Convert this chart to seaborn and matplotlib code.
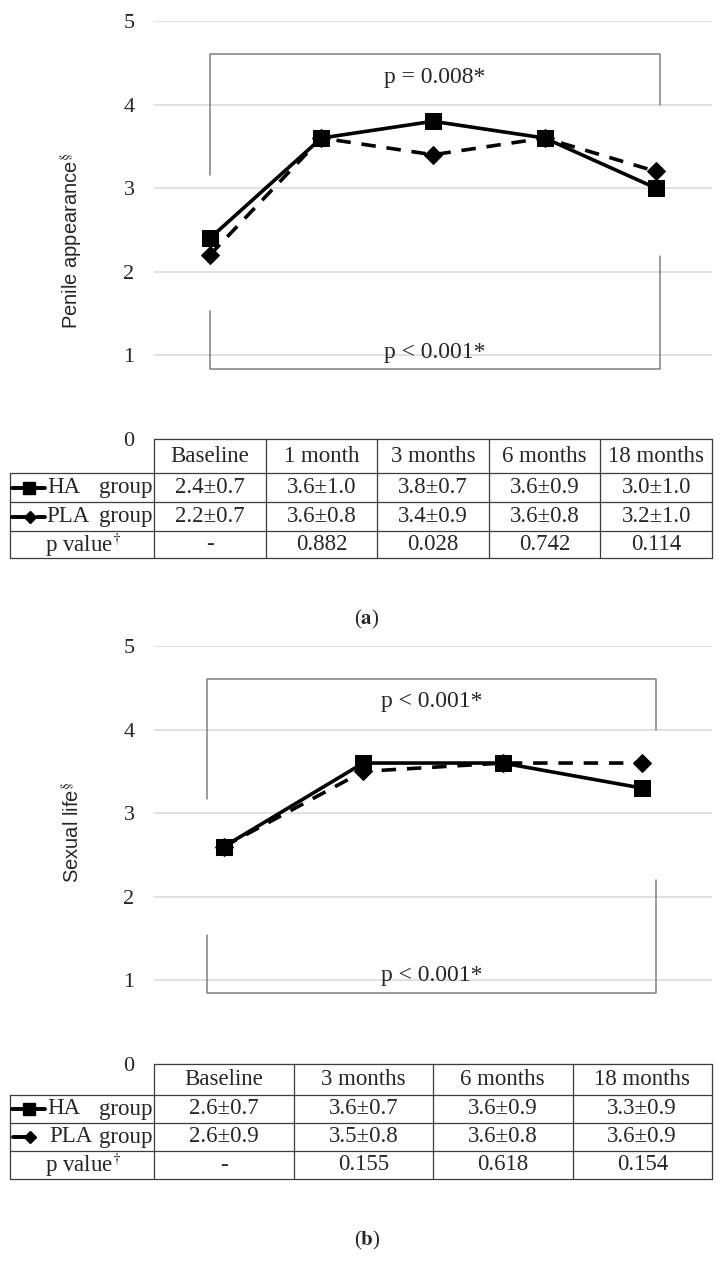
import numpy as np
import pandas as pd
import matplotlib
matplotlib.use("Agg")
import matplotlib.pyplot as plt
import seaborn as sns

# ---------------- data ----------------
y_ticks = [0, 1, 2, 3, 4, 5]

a_times = ["Baseline", "1 month", "3 months", "6 months", "18 months"]
a_ha_mean = [2.4, 3.6, 3.8, 3.6, 3.0]
a_ha_sd = [0.7, 1.0, 0.7, 0.9, 1.0]
a_pla_mean = [2.2, 3.6, 3.4, 3.6, 3.2]
a_pla_sd = [0.7, 0.8, 0.9, 0.8, 1.0]
a_pvals = ["-", "0.882", "0.028", "0.742", "0.114"]
a_ylabel = "Penile appearance"
a_p_time = "p = 0.008*"
a_p_group = "p < 0.001*"

b_times = ["Baseline", "3 months", "6 months", "18 months"]
b_ha_mean = [2.6, 3.6, 3.6, 3.3]
b_ha_sd = [0.7, 0.7, 0.9, 0.9]
b_pla_mean = [2.6, 3.5, 3.6, 3.6]
b_pla_sd = [0.9, 0.8, 0.8, 0.9]
b_pvals = ["-", "0.155", "0.618", "0.154"]
b_ylabel = "Sexual life"
b_p_time = "p < 0.001*"
b_p_group = "p < 0.001*"

row_labels = ["HA", "PLA", "p value"]

# ---------------- style ----------------
sns.set_theme(style="white")
plt.rcParams["font.family"] = ["Liberation Serif", "DejaVu Serif"]
plt.rcParams["mathtext.fontset"] = "stix"

W, H = 722, 1262
fig = plt.figure(figsize=(W / 100, H / 100), dpi=100)
fig.patch.set_facecolor("white")

# overlay in pixel coordinates for tables / captions
ov = fig.add_axes([0, 0, 1, 1], zorder=-1)
ov.set_xlim(0, W)
ov.set_ylim(H, 0)
ov.axis("off")

GRID = "#dcdcdc"
TLINE = "#3c3c3c"
BRK = "#808080"
FS_TICK = 16
FS_TAB = 16.5
FS_P = 17
LEFT, RIGHT = 154, 712
UNIT = 83.6


def panel(top_px, times, ha, ha_sd, pla, pla_sd, pvals, ylabel, p_time, p_group,
          brk_x, brk_top, brk_bot, p_y, ylabel_y, row_h, pla_dash_glyph, cap, cap_y):
    n = len(times)
    y0 = top_px + 5 * UNIT
    ax = fig.add_axes([LEFT / W, 1 - y0 / H, (RIGHT - LEFT) / W, 5 * UNIT / H])
    ax.patch.set_alpha(0)
    df = pd.DataFrame({"x": np.arange(n), "HA": ha, "PLA": pla})
    sns.lineplot(data=df, x="x", y="PLA", ax=ax, color="black", linewidth=2.6,
                 linestyle=(0, (4, 3)), marker="D", markersize=9.5,
                 markeredgecolor="black", markerfacecolor="black", clip_on=False)
    sns.lineplot(data=df, x="x", y="HA", ax=ax, color="black", linewidth=2.6,
                 marker="s", markersize=12, markeredgecolor="black",
                 markerfacecolor="black", clip_on=False)
    ax.set_xlim(-0.5, n - 0.5)
    ax.set_ylim(0, 5)
    ax.set_xticks([])
    ax.set_yticks(y_ticks)
    ax.set_yticklabels([str(t) for t in y_ticks], fontsize=FS_TICK)
    ax.tick_params(axis="y", length=0, pad=14)
    ax.set_xlabel("")
    ax.set_ylabel("")
    for s in ax.spines.values():
        s.set_visible(False)
    ax.grid(axis="y", color=GRID, linewidth=1.2)
    ax.set_axisbelow(True)

    # brackets (time effect on top, group effect at bottom)
    xl, xr = brk_x
    t_y, t_left_end, t_right_end = brk_top
    b_y, b_left_start, b_right_start = brk_bot
    kw = dict(color=BRK, linewidth=1.1, clip_on=False, zorder=1)
    ax.plot([xl, xl, xr, xr], [t_left_end, t_y, t_y, t_right_end], **kw)
    ax.plot([xl, xl, xr, xr], [b_left_start, b_y, b_y, b_right_start], **kw)
    mid = (xl + xr) / 2
    ax.text(mid, p_y[0], p_time, ha="center", va="center", fontsize=FS_P)
    ax.text(mid, p_y[1], p_group, ha="center", va="center", fontsize=FS_P)

    fig.text(72 / W, 1 - ylabel_y / H, ylabel + "$^{\u00a7}$", rotation=90,
             ha="center", va="center", fontsize=14.5, family="Liberation Sans")

    # ------------- data table -------------
    cols = np.linspace(LEFT, RIGHT, n + 1)
    rows = np.concatenate([[y0], y0 + np.cumsum(row_h)])
    lk = dict(color=TLINE, linewidth=0.9)
    ov.plot([LEFT, RIGHT], [rows[0], rows[0]], **lk)
    for r in rows[1:]:
        ov.plot([10, RIGHT], [r, r], **lk)
    ov.plot([10, 10], [rows[1], rows[-1]], **lk)
    for c in cols:
        ov.plot([c, c], [rows[0], rows[-1]], **lk)
    cx = (cols[:-1] + cols[1:]) / 2
    ry = (rows[:-1] + rows[1:]) / 2
    for i in range(n):
        ov.text(cx[i], ry[0], times[i], ha="center", va="center", fontsize=FS_TAB)
        ov.text(cx[i], ry[1], f"{ha[i]:.1f}\u00b1{ha_sd[i]:.1f}", ha="center", va="center", fontsize=FS_TAB)
        ov.text(cx[i], ry[2], f"{pla[i]:.1f}\u00b1{pla_sd[i]:.1f}", ha="center", va="center", fontsize=FS_TAB)
        ov.text(cx[i], ry[3], pvals[i], ha="center", va="center", fontsize=FS_TAB)
    # row labels with legend glyphs
    ov.plot([12, 45], [ry[1], ry[1]], color="black", linewidth=2.8)
    ov.plot([29], [ry[1]], marker="s", markersize=8.5, color="black")
    ov.text(47, ry[1], row_labels[0], ha="left", va="center", fontsize=FS_TAB)
    ov.text(152, ry[1], "group", ha="right", va="center", fontsize=FS_TAB)
    if pla_dash_glyph:
        ov.plot([12, 26], [ry[2], ry[2]], color="black", linewidth=2.8)
        ov.plot([37, 45], [ry[2], ry[2]], color="black", linewidth=2.8)
        ov.plot([30], [ry[2]], marker="D", markersize=6, color="black")
        ov.text(46, ry[2], row_labels[1], ha="left", va="center", fontsize=FS_TAB)
    else:
        ov.plot([13, 28], [ry[2], ry[2]], color="black", linewidth=2.8)
        ov.plot([29.5], [ry[2]], marker="D", markersize=6, color="black")
        ov.text(49, ry[2], row_labels[1], ha="left", va="center", fontsize=FS_TAB)
    ov.text(152, ry[2], "group", ha="right", va="center", fontsize=FS_TAB)
    ov.text(83, ry[3], row_labels[2] + "$^{\\dagger}$", ha="center", va="center", fontsize=FS_TAB)

    ov.text(367, cap_y, "(" + "$\\mathbf{" + cap + "}$" + ")", ha="center", va="center", fontsize=15)
    return ax


panel(21, a_times, a_ha_mean, a_ha_sd, a_pla_mean, a_pla_sd, a_pvals, a_ylabel,
      a_p_time, a_p_group, brk_x=(0.0, 4.03), brk_top=(4.61, 3.16, 4.0),
      brk_bot=(0.84, 1.53, 2.19), p_y=(4.33, 1.04), ylabel_y=241,
      row_h=[34, 29, 29, 27], pla_dash_glyph=True, cap="a", cap_y=619)

panel(646, b_times, b_ha_mean, b_ha_sd, b_pla_mean, b_pla_sd, b_pvals, b_ylabel,
      b_p_time, b_p_group, brk_x=(-0.12, 3.10), brk_top=(4.60, 3.17, 4.0),
      brk_bot=(0.85, 1.54, 2.2), p_y=(4.34, 1.06), ylabel_y=832,
      row_h=[31, 28, 28, 28], pla_dash_glyph=False, cap="b", cap_y=1240)

fig.savefig("out.png", dpi=100, facecolor="white")
